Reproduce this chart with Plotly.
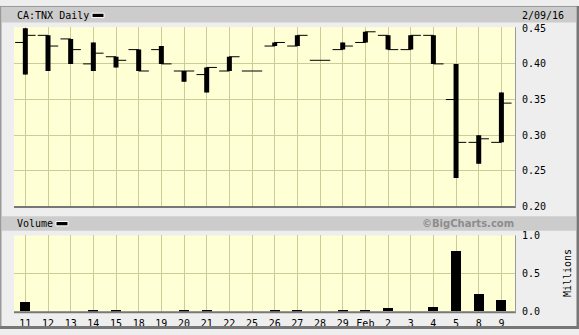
import plotly.graph_objects as go

# ---- data ----
categories = ["11", "12", "13", "14", "15", "18", "19", "20", "21", "22", "25",
              "26", "27", "28", "29", "Feb", "2", "3", "4", "5", "8", "9"]
opens  = [0.430, 0.440, 0.435, 0.400, 0.410, 0.420, 0.420, 0.390, 0.385, 0.390, 0.390,
          0.425, 0.425, 0.405, 0.420, 0.430, 0.440, 0.420, 0.440, 0.350, 0.290, 0.290]
highs  = [0.450, 0.440, 0.435, 0.430, 0.410, 0.420, 0.425, 0.390, 0.395, 0.410, 0.390,
          0.430, 0.440, 0.405, 0.430, 0.445, 0.440, 0.440, 0.440, 0.400, 0.300, 0.360]
lows   = [0.385, 0.390, 0.400, 0.390, 0.395, 0.390, 0.400, 0.375, 0.360, 0.390, 0.390,
          0.425, 0.425, 0.405, 0.420, 0.430, 0.420, 0.420, 0.400, 0.240, 0.260, 0.290]
closes = [0.440, 0.425, 0.420, 0.415, 0.405, 0.390, 0.400, 0.390, 0.395, 0.410, 0.390,
          0.430, 0.440, 0.405, 0.425, 0.445, 0.420, 0.440, 0.400, 0.290, 0.295, 0.345]
volume_millions = [0.115, 0.0, 0.0, 0.02, 0.02, 0.0, 0.0, 0.01, 0.02, 0.0, 0.0,
                   0.01, 0.01, 0.0, 0.01, 0.01, 0.04, 0.0, 0.05, 0.79, 0.23, 0.15]
price_ticks = [0.20, 0.25, 0.30, 0.35, 0.40, 0.45]
volume_ticks = [0.0, 0.5, 1.0]

W, H = 579, 335
xs = list(range(len(categories)))

def px(x):
    return x / W

def py(y):
    return 1 - y / H

MONO = "DejaVu Sans Mono"
BG = "#eeeeee"
HEAD = "#cccccc"
PLOT_BG = "#ffffd6"
GRID = "#cccc99"

fig = go.Figure()

# thick stems
fig.add_trace(go.Ohlc(
    x=xs, open=opens, high=highs, low=lows, close=closes,
    tickwidth=0, xaxis="x", yaxis="y",
    increasing=dict(line=dict(color="black", width=5)),
    decreasing=dict(line=dict(color="black", width=5)),
    hoverinfo="skip", showlegend=False,
))
# open / close ticks
fig.add_trace(go.Ohlc(
    x=xs, open=opens, high=highs, low=lows, close=closes,
    tickwidth=0.45, xaxis="x", yaxis="y",
    increasing=dict(line=dict(color="black", width=1)),
    decreasing=dict(line=dict(color="black", width=1)),
    hoverinfo="skip", showlegend=False,
))
# volume
fig.add_trace(go.Bar(
    x=xs, y=volume_millions, width=0.44, marker=dict(color="black", line=dict(width=0)),
    xaxis="x2", yaxis="y2", hoverinfo="skip", showlegend=False,
))

xrange = [-0.5, 21.6]
main_dom_y = [py(208), py(22)]
vol_dom_y = [py(317), py(238)]
dom_x = [px(14), px(515)]

fig.update_layout(
    width=W, height=H,
    margin=dict(l=0, r=0, t=0, b=0),
    paper_bgcolor=BG, plot_bgcolor=PLOT_BG,
    font=dict(family=MONO, size=10, color="black"),
    showlegend=False,
    xaxis=dict(domain=dom_x, range=xrange, anchor="y", tickvals=xs, ticktext=categories,
               showticklabels=False, showgrid=True, gridcolor=GRID, gridwidth=1,
               zeroline=False, rangeslider=dict(visible=False), fixedrange=True,
               showline=False),
    yaxis=dict(domain=main_dom_y, range=[0.20, 0.4514], side="right", anchor="x",
               tickvals=price_ticks, tickformat=".2f", showgrid=True, gridcolor=GRID,
               gridwidth=1, zeroline=False, ticks="", ticklabelstandoff=6,
               tickfont=dict(family=MONO, size=10)),
    xaxis2=dict(domain=dom_x, range=xrange, anchor="y2", tickvals=xs, ticktext=categories,
                showgrid=True, gridcolor=GRID, gridwidth=1, zeroline=False, ticks="",
                tickfont=dict(family=MONO, size=10), ticklabelstandoff=4),
    yaxis2=dict(domain=vol_dom_y, range=[0, 1.0], side="right", anchor="x2",
                tickvals=volume_ticks, tickformat=".1f", showgrid=True, gridcolor=GRID,
                gridwidth=1, zeroline=False, ticks="", ticklabelstandoff=6,
                tickfont=dict(family=MONO, size=10)),
    bargap=0,
)

shapes = []
# header bars
shapes.append(dict(type="rect", xref="paper", yref="paper", x0=px(2), x1=px(576),
                   y0=py(17), y1=py(1), fillcolor=HEAD, line=dict(width=0), layer="below"))
shapes.append(dict(type="rect", xref="paper", yref="paper", x0=px(2), x1=px(576),
                   y0=py(233), y1=py(218), fillcolor=HEAD, line=dict(width=0), layer="below"))
# outer border
shapes.append(dict(type="line", xref="paper", yref="paper", x0=px(0.5), x1=px(0.5),
                   y0=0, y1=1, line=dict(color="#999999", width=2)))
shapes.append(dict(type="line", xref="paper", yref="paper", x0=0, x1=1,
                   y0=py(0.5), y1=py(0.5), line=dict(color="#999999", width=1)))
shapes.append(dict(type="line", xref="paper", yref="paper", x0=px(578), x1=px(578),
                   y0=0, y1=1, line=dict(color="#777777", width=3)))
shapes.append(dict(type="line", xref="paper", yref="paper", x0=0, x1=1,
                   y0=py(333.5), y1=py(333.5), line=dict(color="#777777", width=3)))
# plot borders (shadow right/bottom)
for (yt, yb) in [(22, 208), (238, 317)]:
    shapes.append(dict(type="line", xref="paper", yref="paper", x0=px(14), x1=px(516),
                       y0=py(yb + 0.5), y1=py(yb + 0.5), line=dict(color="#777777", width=2)))
    shapes.append(dict(type="line", xref="paper", yref="paper", x0=px(515.5), x1=px(515.5),
                       y0=py(yb + 1), y1=py(yt), line=dict(color="#999999", width=1)))
# legend swatches
for (x0, y0) in [(92, 7.5), (56, 223.5)]:
    shapes.append(dict(type="rect", xref="paper", yref="paper", x0=px(x0), x1=px(x0 + 12),
                       y0=py(y0 + 4.5), y1=py(y0), fillcolor="black",
                       line=dict(color="white", width=1)))
fig.update_layout(shapes=shapes)

ann = [
    dict(text="CA:TNX Daily", x=px(15), y=py(9.5), xanchor="left", yanchor="middle",
         font=dict(family=MONO, size=10, color="black")),
    dict(text="2/09/16", x=px(566), y=py(9.5), xanchor="right", yanchor="middle",
         font=dict(family=MONO, size=10, color="black")),
    dict(text="Volume", x=px(15), y=py(226), xanchor="left", yanchor="middle",
         font=dict(family=MONO, size=10, color="black")),
    dict(text="©BigCharts.com", x=px(516), y=py(226), xanchor="right", yanchor="middle",
         font=dict(family="DejaVu Sans", size=10, color="#8c8c8c", weight="bold")),
    dict(text="Millions", x=px(567), y=py(277), xanchor="center", yanchor="middle",
         textangle=-90, font=dict(family=MONO, size=10, color="black")),
]
for a in ann:
    a.update(xref="paper", yref="paper", showarrow=False)
fig.update_layout(annotations=ann)

fig.write_html("out.html")
